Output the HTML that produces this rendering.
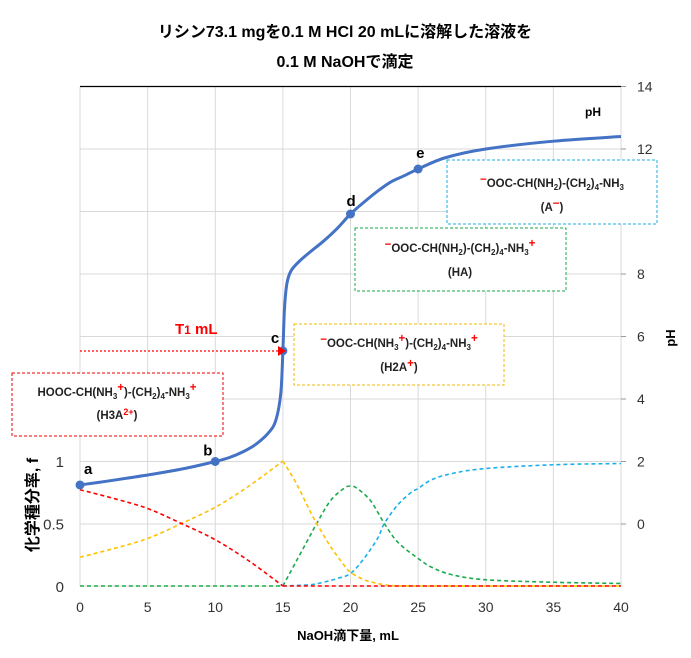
<!DOCTYPE html>
<html><head><meta charset="utf-8"><style>
body{margin:0;background:#fff;}
svg{display:block;font-family:"Liberation Sans","Noto Sans CJK JP",sans-serif;}
.bx{font-size:11.5px;font-weight:bold;fill:#222;}
</style></head><body>
<svg id="c" width="691" height="658">
<text x="345" y="37" text-anchor="middle" font-size="16" font-weight="bold">リシン73.1 mgを0.1 M HCl 20 mLに溶解した溶液を</text>
<text x="345" y="67" text-anchor="middle" font-size="16" font-weight="bold">0.1 M NaOHで滴定</text>
<g id="grid"></g>
<g id="axes"></g>
<g id="series"></g>
<g>
<line x1="80" y1="351" x2="278" y2="351" stroke="#f00" stroke-width="1.2" stroke-dasharray="2,2"/>
<polygon points="278,346 286,351 278,356" fill="#f00"/>
<text x="175" y="334" fill="#f00" font-size="15" font-weight="bold">T<tspan font-size="12">1</tspan> mL</text>
<text x="585" y="116" font-size="12" font-weight="bold">pH</text>
<rect x="12" y="373" width="211" height="63" fill="#fff" stroke="#e00" stroke-dasharray="3,2"/>
<text class="bx" x="117" y="396" text-anchor="middle">HOOC-CH(NH<tspan font-size="8" dy="3">3</tspan><tspan fill="#f00" dy="-8">+</tspan><tspan dy="5">)-(CH</tspan><tspan font-size="8" dy="3">2</tspan><tspan dy="-3">)</tspan><tspan font-size="8" dy="3">4</tspan><tspan dy="-3">-NH</tspan><tspan font-size="8" dy="3">3</tspan><tspan fill="#f00" dy="-8">+</tspan></text>
<text class="bx" x="117" y="419" text-anchor="middle">(H3A<tspan fill="#f00" font-size="9" dy="-4">2+</tspan><tspan dy="4">)</tspan></text>
<rect x="294" y="324" width="210" height="61" fill="#fff" stroke="#f5b800" stroke-dasharray="3,2"/>
<text class="bx" x="399" y="347" text-anchor="middle"><tspan fill="#f00" dy="-4">−</tspan><tspan dy="4">OOC-CH(NH</tspan><tspan font-size="8" dy="3">3</tspan><tspan fill="#f00" dy="-8">+</tspan><tspan dy="5">)-(CH</tspan><tspan font-size="8" dy="3">2</tspan><tspan dy="-3">)</tspan><tspan font-size="8" dy="3">4</tspan><tspan dy="-3">-NH</tspan><tspan font-size="8" dy="3">3</tspan><tspan fill="#f00" dy="-8">+</tspan></text>
<text class="bx" x="399" y="371" text-anchor="middle">(H2A<tspan fill="#f00" dy="-4">+</tspan><tspan dy="4">)</tspan></text>
<rect x="355" y="228" width="211" height="63" fill="#fff" stroke="#1aaa4a" stroke-dasharray="3,2"/>
<text class="bx" x="460" y="252" text-anchor="middle"><tspan fill="#f00" dy="-4">−</tspan><tspan dy="4">OOC-CH(NH</tspan><tspan font-size="8" dy="3">2</tspan><tspan dy="-3">)-(CH</tspan><tspan font-size="8" dy="3">2</tspan><tspan dy="-3">)</tspan><tspan font-size="8" dy="3">4</tspan><tspan dy="-3">-NH</tspan><tspan font-size="8" dy="3">3</tspan><tspan fill="#f00" dy="-8">+</tspan></text>
<text class="bx" x="460" y="276" text-anchor="middle">(HA)</text>
<rect x="447" y="160" width="210" height="64" fill="#fff" stroke="#1ab0e8" stroke-dasharray="3,2"/>
<text class="bx" x="552" y="187" text-anchor="middle"><tspan fill="#f00" dy="-4">−</tspan><tspan dy="4">OOC-CH(NH</tspan><tspan font-size="8" dy="3">2</tspan><tspan dy="-3">)-(CH</tspan><tspan font-size="8" dy="3">2</tspan><tspan dy="-3">)</tspan><tspan font-size="8" dy="3">4</tspan><tspan dy="-3">-NH</tspan><tspan font-size="8" dy="3">3</tspan></text>
<text class="bx" x="552" y="211" text-anchor="middle">(A<tspan fill="#f00" dy="-4">−</tspan><tspan dy="4">)</tspan></text>
</g>
<text x="348" y="640" text-anchor="middle" font-size="13" font-weight="bold">NaOH滴下量, mL</text>
<text transform="translate(38,505) rotate(-90)" text-anchor="middle" font-size="16" font-weight="bold">化学種分率, f</text>
<text transform="translate(675,338) rotate(-90)" text-anchor="middle" font-size="13" font-weight="bold">pH</text>
</svg>
<script>
const xTicks=[0,5,10,15,20,25,30,35,40];
const fTicks=[0,0.5,1];
const phTicks=[0,2,4,6,8,10,12,14];
const phVol=[0,2,4,6,8,10,11,12,13,14,14.5,14.85,15,15.12,15.3,15.6,16.2,17,18,19,20,21,22,23,24,25,27,30,35,40];
const phVal=[1.25,1.37,1.5,1.64,1.8,2.0,2.12,2.3,2.55,2.95,3.35,4.2,5.54,6.9,7.7,8.1,8.4,8.7,9.05,9.45,9.92,10.3,10.65,10.95,11.15,11.36,11.72,12.0,12.25,12.4];
const ptLabels=['a','b','c','d','e'];
const ptVol=[0,10,15,20,25];
const ptPH=[1.25,2.0,5.54,9.92,11.36];
const redVol=[0,2.5,5,7.5,10,12.5,15,40];
const redVal=[0.77,0.70,0.62,0.50,0.37,0.20,0,0];
const yelVol=[0,2.5,5,7.5,10,12.5,15,16,17,17.5,18.5,19.5,20,21,22,23,25,40];
const yelVal=[0.23,0.30,0.38,0.50,0.63,0.80,1.0,0.82,0.6,0.5,0.32,0.17,0.11,0.05,0.02,0.005,0,0];
const grnVol=[0,15,16,17,17.5,18.5,19.5,20,20.5,21.5,22.5,23.5,25,26,27.5,30,35,40];
const grnVal=[0,0,0.2,0.4,0.5,0.68,0.78,0.8,0.78,0.68,0.5,0.35,0.22,0.15,0.09,0.05,0.03,0.02];
const bluVol=[15,17,18,19,20,21,22,22.5,23.5,24.5,25,26,27.5,30,35,40];
const bluVal=[0,0.01,0.03,0.06,0.1,0.22,0.38,0.5,0.65,0.75,0.78,0.85,0.9,0.94,0.97,0.98];
const NS='http://www.w3.org/2000/svg';
const X=v=>80+v*(541/40);
const Yf=f=>586-f*125;
const Yp=p=>524-p*31.25;
function mk(t,a,p){const e=document.createElementNS(NS,t);for(const k in a)e.setAttribute(k,a[k]);p.appendChild(e);return e;}
const grid=document.getElementById('grid'),axes=document.getElementById('axes'),ser=document.getElementById('series');
xTicks.forEach(v=>{
 const l=mk('line',{x1:X(v),x2:X(v),y1:87,y2:586,stroke:'#d9d9d9'},grid);
 
 
 const t=mk('text',{x:X(v),y:612,'text-anchor':'middle','font-size':14,fill:'#333'},axes);t.textContent=v;
 
 
});
phTicks.forEach(v=>{
 const l=mk('line',{x1:80,x2:621,y1:Yp(v),y2:Yp(v),stroke:v===14?'#000':'#d9d9d9','stroke-width':v===14?1.3:1},grid);
 
 
 mk('line',{x1:621,x2:626,y1:Yp(v),y2:Yp(v),stroke:'#999'},axes);
 const t=mk('text',{x:637,y:Yp(v)+5,'font-size':14,fill:'#333'},axes);t.textContent=v;
 
 
});
mk('line',{x1:80,x2:621,y1:586,y2:586,stroke:'#d9d9d9'},grid);
mk('line',{x1:621,x2:621,y1:87,y2:586,stroke:'#d9d9d9'},grid);
fTicks.forEach(v=>{
 const t=mk('text',{x:64,y:Yf(v)+6,'text-anchor':'end','font-size':15,fill:'#333'},axes);t.textContent=v;
 
 
});
function smooth(P,breakX){
 // split at kink points
 const segs=[];let cur=[];
 P.forEach(p=>{cur.push(p);if(breakX.some(b=>Math.abs(p[0]-b)<0.01)){segs.push(cur);cur=[p];}});
 if(cur.length>1)segs.push(cur);
 let d='';
 segs.forEach(S=>{
  d+='M'+S[0][0]+','+S[0][1];
  for(let i=0;i<S.length-1;i++){const p0=S[Math.max(0,i-1)],p1=S[i],p2=S[i+1],p3=S[Math.min(S.length-1,i+2)];
   d+=` C${p1[0]+(p2[0]-p0[0])/6},${p1[1]+(p2[1]-p0[1])/6} ${p2[0]-(p3[0]-p1[0])/6},${p2[1]-(p3[1]-p1[1])/6} ${p2[0]},${p2[1]}`;}
 });
 return d;
}
function frac(xs,ys,color,name){
 const P=xs.map((x,i)=>[X(x),Yf(ys[i])]);
 const p=mk('path',{d:smooth(P,[X(15)]),fill:'none',stroke:color,'stroke-width':1.6,'stroke-dasharray':'4,3'},ser);
 
 
}
frac(grnVol,grnVal,'#1aaa4a','ha-fraction-line');
frac(bluVol,bluVal,'#1ab0e8','a-fraction-line');
frac(yelVol,yelVal,'#ffc000','h2a-fraction-line');
frac(redVol,redVal,'#ff0000','h3a-fraction-line');
const P=phVol.map((v,i)=>[X(v),Yp(phVal[i])]);
const ph=mk('path',{d:smooth(P,[]),fill:'none',stroke:'#4472c4','stroke-width':3},ser);


const off=[[4,-11],[-12,-6],[-12,-8],[-4,-8],[-2,-11]];
ptVol.forEach((v,i)=>{
 const c=mk('circle',{cx:X(v),cy:Yp(ptPH[i]),r:4.5,fill:'#4472c4'},ser);
 
 
 const t=mk('text',{x:X(v)+off[i][0],y:Yp(ptPH[i])+off[i][1],'font-size':15,'font-weight':'bold'},ser);t.textContent=ptLabels[i];
 
 
});
</script>
</body></html>
